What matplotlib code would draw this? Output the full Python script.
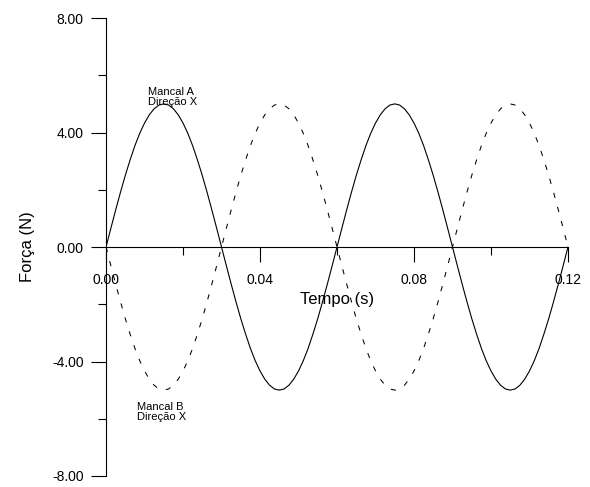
import matplotlib.pyplot as plt

plt.rcParams['font.family'] = ['Liberation Sans', 'DejaVu Sans']

# tempo (s), passo de 0.00125 s
tempo = [i * 0.00125 for i in range(97)]

# forca (N)
mancal_a = [0.00, 0.65, 1.29, 1.91, 2.50, 3.04, 3.54, 3.97, 4.33, 4.62, 4.83, 4.96,
            5.00, 4.96, 4.83, 4.62, 4.33, 3.97, 3.54, 3.04, 2.50, 1.91, 1.29, 0.65,
            0.00, -0.65, -1.29, -1.91, -2.50, -3.04, -3.54, -3.97, -4.33, -4.62, -4.83, -4.96,
            -5.00, -4.96, -4.83, -4.62, -4.33, -3.97, -3.54, -3.04, -2.50, -1.91, -1.29, -0.65,
            0.00, 0.65, 1.29, 1.91, 2.50, 3.04, 3.54, 3.97, 4.33, 4.62, 4.83, 4.96,
            5.00, 4.96, 4.83, 4.62, 4.33, 3.97, 3.54, 3.04, 2.50, 1.91, 1.29, 0.65,
            0.00, -0.65, -1.29, -1.91, -2.50, -3.04, -3.54, -3.97, -4.33, -4.62, -4.83, -4.96,
            -5.00, -4.96, -4.83, -4.62, -4.33, -3.97, -3.54, -3.04, -2.50, -1.91, -1.29, -0.65,
            0.00]
mancal_b = [0.00, -0.65, -1.29, -1.91, -2.50, -3.04, -3.54, -3.97, -4.33, -4.62, -4.83, -4.96,
            -5.00, -4.96, -4.83, -4.62, -4.33, -3.97, -3.54, -3.04, -2.50, -1.91, -1.29, -0.65,
            0.00, 0.65, 1.29, 1.91, 2.50, 3.04, 3.54, 3.97, 4.33, 4.62, 4.83, 4.96,
            5.00, 4.96, 4.83, 4.62, 4.33, 3.97, 3.54, 3.04, 2.50, 1.91, 1.29, 0.65,
            0.00, -0.65, -1.29, -1.91, -2.50, -3.04, -3.54, -3.97, -4.33, -4.62, -4.83, -4.96,
            -5.00, -4.96, -4.83, -4.62, -4.33, -3.97, -3.54, -3.04, -2.50, -1.91, -1.29, -0.65,
            0.00, 0.65, 1.29, 1.91, 2.50, 3.04, 3.54, 3.97, 4.33, 4.62, 4.83, 4.96,
            5.00, 4.96, 4.83, 4.62, 4.33, 3.97, 3.54, 3.04, 2.50, 1.91, 1.29, 0.65,
            0.00]

xticks = [0.00, 0.04, 0.08, 0.12]
xminor = [0.02, 0.06, 0.10]
yticks = [-8, -4, 0, 4, 8]
yminor = [-6, -2, 2, 6]

fig = plt.figure(figsize=(5.9, 4.87), dpi=100)
ax = fig.add_axes([0.1797, 0.0226, 0.7830, 0.9404])

ax.plot(tempo, mancal_a, color='black', lw=0.8)
ax.plot(tempo, mancal_b, color='black', lw=0.75, linestyle=(0, (5, 9)))

ax.set_xlim(0, 0.12)
ax.set_ylim(-8, 8)

ax.spines['top'].set_visible(False)
ax.spines['right'].set_visible(False)
ax.spines['bottom'].set_position(('data', 0))
for s in ('left', 'bottom'):
    ax.spines[s].set_linewidth(0.8)

ax.set_xticks(xticks)
ax.set_xticklabels([f'{v:.2f}' for v in xticks])
ax.set_xticks(xminor, minor=True)
ax.set_yticks(yticks)
ax.set_yticklabels([f'{v:.2f}' for v in yticks])
ax.set_yticks(yminor, minor=True)

ax.tick_params(axis='both', which='major', length=11, width=0.8, labelsize=10, direction='out')
ax.tick_params(axis='both', which='minor', length=5.5, width=0.8, direction='out')
ax.tick_params(axis='x', which='major', pad=8)
ax.tick_params(axis='y', which='major', pad=5)

ax.set_xlabel('Tempo (s)', fontsize=12)
ax.xaxis.label.set_va('center')
ax.xaxis.set_label_coords(0.5, 0.386)
ax.set_ylabel('Força (N)', fontsize=12)
ax.yaxis.label.set_va('center')
ax.yaxis.set_label_coords(-0.17, 0.5)

ax.text(0.0109, 4.88, 'Mancal A\nDireção X', fontsize=8, ha='left', va='bottom', linespacing=1.0)
ax.text(0.008, -5.42, 'Mancal B\nDireção X', fontsize=8, ha='left', va='top', linespacing=1.0)

fig.savefig('out.png', dpi=100)
